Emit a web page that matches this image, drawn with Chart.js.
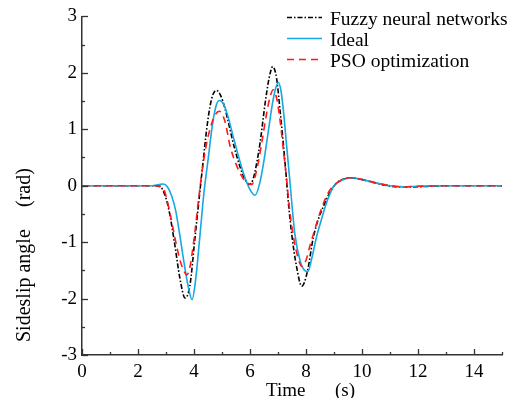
<!DOCTYPE html>
<html><head><meta charset="utf-8">
<script src="https://cdn.jsdelivr.net/npm/chart.js@4/dist/chart.umd.min.js"></script>
<style>html,body{margin:0;padding:0;background:#fff;}#wrap{width:519px;height:398px;}</style>
</head><body>
<div id="wrap"><canvas id="c" width="519" height="398"></canvas></div>
<script>
// ---- data ----
const seriesNames = ['Fuzzy neural networks', 'Ideal', 'PSO optimization'];
const fuzzyT = [0, 2.6, 2.8, 2.95, 3.1, 3.3, 3.5, 3.68, 3.85, 4.04, 4.2, 4.32, 4.45, 4.57, 4.68, 4.8, 4.95, 5.1, 5.29, 5.45, 5.64, 5.8, 5.97, 6.1, 6.22, 6.36, 6.54, 6.68, 6.81, 6.95, 7.07, 7.17, 7.27, 7.38, 7.5, 7.65, 7.85, 8.05, 8.26, 8.45, 8.62, 8.85, 9.1, 9.3, 9.57, 9.9, 10.3, 10.8, 11.3, 11.8, 12.5, 13.2, 15];
const fuzzyY = [0, 0, -0.02, -0.15, -0.42, -1.0, -1.65, -1.99, -1.78, -0.9, -0.15, 0.4, 0.99, 1.40, 1.62, 1.69, 1.6, 1.38, 0.99, 0.66, 0.34, 0.13, 0.02, 0.1, 0.35, 0.76, 1.46, 1.9, 2.11, 1.9, 1.35, 0.85, 0.3, -0.35, -0.9, -1.4, -1.78, -1.52, -0.92, -0.58, -0.37, -0.12, 0.05, 0.11, 0.14, 0.12, 0.07, 0.01, -0.02, -0.02, -0.01, 0, 0];
const idealT = [0, 2.5, 2.75, 2.9, 3.05, 3.2, 3.35, 3.5, 3.65, 3.8, 3.93, 4.05, 4.2, 4.35, 4.5, 4.65, 4.78, 4.9, 5.05, 5.2, 5.4, 5.6, 5.8, 6.0, 6.18, 6.35, 6.5, 6.65, 6.8, 6.92, 7.01, 7.1, 7.2, 7.3, 7.43, 7.6, 7.8, 7.95, 8.07, 8.2, 8.38, 8.55, 8.7, 8.85, 9.0, 9.3, 9.6, 10.0, 10.5, 11.0, 11.5, 12.0, 13.0, 15];
const idealY = [0, 0, 0.02, 0.03, -0.02, -0.18, -0.45, -0.9, -1.38, -1.8, -2.02, -1.7, -0.95, -0.15, 0.45, 1.05, 1.4, 1.51, 1.45, 1.25, 0.87, 0.5, 0.17, -0.07, -0.17, 0.05, 0.45, 0.95, 1.45, 1.73, 1.83, 1.7, 1.3, 0.75, 0.05, -0.85, -1.35, -1.5, -1.52, -1.3, -0.9, -0.6, -0.35, -0.15, 0.0, 0.1, 0.14, 0.11, 0.05, 0.0, -0.02, -0.01, 0, 0];
const psoT = [0, 2.6, 2.8, 2.95, 3.14, 3.3, 3.5, 3.65, 3.74, 3.85, 4.0, 4.15, 4.3, 4.45, 4.6, 4.75, 4.9, 5.1, 5.29, 5.45, 5.6, 5.8, 6.06, 6.25, 6.42, 6.6, 6.72, 6.83, 6.95, 7.07, 7.2, 7.31, 7.42, 7.55, 7.7, 7.85, 8.0, 8.14, 8.3, 8.5, 8.8, 9.1, 9.57, 10.0, 10.5, 11.0, 11.5, 12.0, 13, 15];
const psoY = [0, 0, -0.01, -0.1, -0.48, -0.88, -1.32, -1.52, -1.58, -1.45, -0.95, -0.3, 0.3, 0.75, 1.05, 1.25, 1.32, 1.15, 0.7, 0.45, 0.27, 0.1, 0.02, 0.3, 0.76, 1.3, 1.58, 1.70, 1.55, 1.17, 0.6, 0.1, -0.45, -0.9, -1.25, -1.43, -1.32, -1.07, -0.8, -0.48, -0.12, 0.05, 0.14, 0.11, 0.05, 0, -0.02, -0.01, 0, 0];
const xTickLabels = [0, 2, 4, 6, 8, 10, 12, 14];
const yTickLabels = [-3, -2, -1, 0, 1, 2, 3];
const xTitle = ['Time', '(s)'];
const yTitle = ['Sideslip angle', '(rad)'];

// ---- styles ----
const colors = ['#000000', '#16A8E0', '#FF1A1A'];
const dashes = [[5, 2, 1.5, 2], [], [7, 5]];
const SERIF = '"Liberation Serif", "Times New Roman", serif';

function pts(t, y) { return t.map((v, i) => ({ x: v, y: y[i] })); }

const datasets = [
  { label: seriesNames[0], data: pts(fuzzyT, fuzzyY), borderColor: colors[0], borderDash: dashes[0], order: 3 },
  { label: seriesNames[1], data: pts(idealT, idealY), borderColor: colors[1], borderDash: dashes[1], order: 2 },
  { label: seriesNames[2], data: pts(psoT, psoY), borderColor: colors[2], borderDash: dashes[2], order: 1 }
].map(d => Object.assign(d, { borderWidth: 1.6, pointRadius: 0, fill: false, cubicInterpolationMode: 'monotone' }));

const decor = {
  id: 'decor',
  afterDraw(chart) {
    const ctx = chart.ctx, xs = chart.scales.x, ys = chart.scales.y, ca = chart.chartArea;
    ctx.save();
    // inward tick marks
    ctx.strokeStyle = '#333'; ctx.lineWidth = 1.3; ctx.setLineDash([]);
    for (let k = -6; k <= 6; k++) {
      const v = k / 2, py = Math.round(ys.getPixelForValue(v)) + 0.5;
      const len = (k % 2 === 0) ? 6 : 3;
      ctx.beginPath(); ctx.moveTo(ca.left, py); ctx.lineTo(ca.left + len, py); ctx.stroke();
    }
    for (let v = 0; v <= 15; v++) {
      const px = Math.round(xs.getPixelForValue(v)) + 0.5;
      const len = (v % 2 === 0) ? 6 : 3;
      ctx.beginPath(); ctx.moveTo(px, ca.bottom); ctx.lineTo(px, ca.bottom - len); ctx.stroke();
    }
    // axis titles
    ctx.fillStyle = '#000';
    ctx.font = '19px ' + SERIF;
    ctx.textAlign = 'left'; ctx.textBaseline = 'alphabetic';
    ctx.fillText(xTitle[0], 266, 396);
    ctx.fillText(xTitle[1], 335, 396);
    ctx.save();
    ctx.translate(30, 342); ctx.rotate(-Math.PI / 2);
    ctx.font = '20px ' + SERIF;
    ctx.fillText(yTitle[0], 0, 0);
    ctx.fillText(yTitle[1], 135, 0);
    ctx.restore();
    // legend
    const ly = [17.5, 38.5, 59.5], ty = [25, 46, 67];
    ctx.font = '19.5px ' + SERIF;
    chart.data.datasets.forEach((d, i) => {
      ctx.strokeStyle = d.borderColor; ctx.lineWidth = 1.6; ctx.setLineDash(d.borderDash);
      ctx.beginPath(); ctx.moveTo(287, ly[i]); ctx.lineTo(322, ly[i]); ctx.stroke();
      ctx.fillStyle = '#000';
      ctx.fillText(d.label, 330, ty[i]);
    });
    ctx.restore();
  }
};

new Chart(document.getElementById('c'), {
  type: 'line',
  data: { datasets },
  options: {
    responsive: false, animation: false, devicePixelRatio: 1,
    layout: { padding: { left: 0, right: 17, top: 16, bottom: 0 } },
    plugins: { legend: { display: false }, tooltip: { enabled: false } },
    scales: {
      x: {
        type: 'linear', min: 0, max: 15,
        afterFit: s => { s.height = 43; },
        afterBuildTicks: s => { s.ticks = xTickLabels.map(v => ({ value: v })); },
        ticks: { autoSkip: false, maxRotation: 0, padding: 6, color: '#000', font: { family: SERIF, size: 19 } },
        grid: { display: false, drawTicks: false },
        border: { display: true, color: '#333', width: 1.5 }
      },
      y: {
        min: -3, max: 3,
        afterFit: s => { s.width = 82; },
        afterBuildTicks: s => { s.ticks = yTickLabels.map(v => ({ value: v })); },
        ticks: { padding: 5, color: '#000', font: { family: SERIF, size: 19 } },
        grid: { display: false, drawTicks: false },
        border: { display: true, color: '#333', width: 1.5 }
      }
    }
  },
  plugins: [decor]
});
</script>
</body></html>
